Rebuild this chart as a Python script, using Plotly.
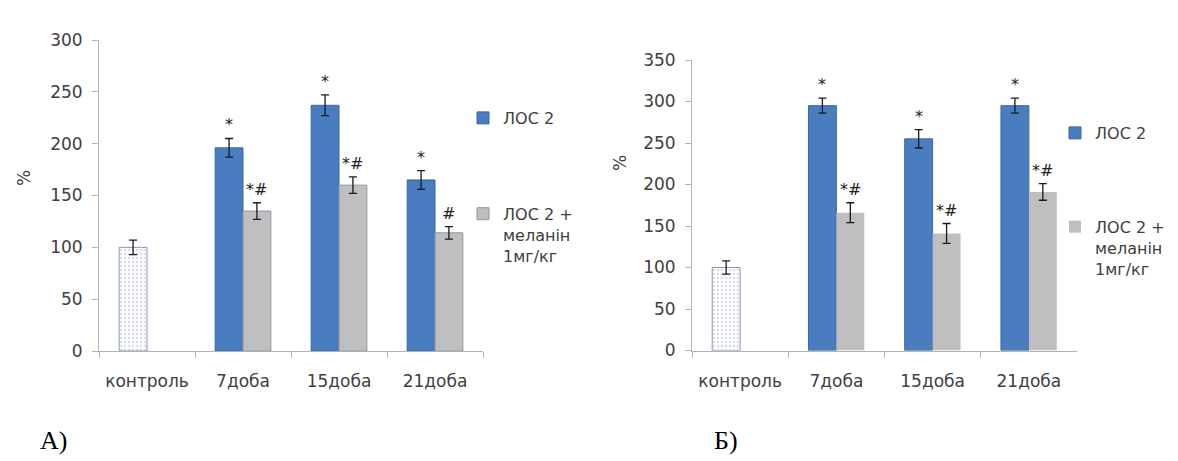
import plotly.graph_objects as go

# ---------------- data ----------------
categories = ["контроль", "7доба", "15доба", "21доба"]
days = categories[1:]

series_names = ["ЛОС 2", "ЛОС 2 +<br>меланін<br>1мг/кг"]

# Panel A)
control_A = [100]
control_err_A = [7]
los2_A = [196, 237, 165]
los2_err_A = [9, 10, 9]
mel_A = [135, 160, 114]
mel_err_A = [8, 8, 6]
sig_los2_A = ["*", "*", "*"]
sig_mel_A = ["*#", "*#", "#"]

# Panel Б)
control_B = [100]
control_err_B = [8]
los2_B = [295, 255, 295]
los2_err_B = [9, 11, 9]
mel_B = [166, 141, 191]
mel_err_B = [12, 12, 10]
sig_los2_B = ["*", "*", "*"]
sig_mel_B = ["*#", "*#", "*#"]

panel_labels = ["А)", "Б)"]

# ---------------- style ----------------
FONT = "DejaVu Sans"
TXT = "#404040"
BLUE = "#4A7DBF"
BLUE_EDGE = "#3B67A3"
GREY = "#BFBFBF"
AXIS = "#B3B3B3"
BARGAP = 0.42

# the page body keeps a default 8px margin, so the figure is drawn 8px in
OFF = 8
W, H = 1178 - OFF, 461 - OFF


def px(x):
    return (x - OFF) / W


def py(y):
    return 1 - (y - OFF) / H


def err(vals):
    return dict(type="data", array=vals, visible=True, color="#1A1A1A",
                thickness=1.3, width=4)


fig = go.Figure()


def add_panel(sfx, legend_name, control, control_err, los2, los2_err,
              mel, mel_err, grey_line):
    xa, ya = "x" + sfx, "y" + sfx
    ag = "ag" + (sfx or "1")
    fig.add_bar(x=[categories[0]], y=control, error_y=err(control_err),
                xaxis=xa, yaxis=ya, offsetgroup="s1", alignmentgroup=ag,
                showlegend=False, name="контроль", legend=legend_name,
                legendgroup="c" + sfx,
                marker=dict(color="#FFFFFF",
                            pattern=dict(shape=".", fgcolor="#B4BFD4",
                                         bgcolor="#FFFFFF", size=4,
                                         solidity=0.35),
                            line=dict(color="#8496B8", width=1)))
    fig.add_bar(x=days, y=los2, error_y=err(los2_err), xaxis=xa, yaxis=ya,
                offsetgroup="s1", alignmentgroup=ag, name=series_names[0],
                legend=legend_name, legendgroup="a" + sfx,
                marker=dict(color=BLUE, line=dict(color=BLUE_EDGE, width=1)))
    fig.add_bar(x=days, y=mel, error_y=err(mel_err), xaxis=xa, yaxis=ya,
                offsetgroup="s2", alignmentgroup=ag, name=series_names[1],
                legend=legend_name, legendgroup="b" + sfx,
                marker=dict(color=GREY, line=grey_line))


add_panel("", "legend", control_A, control_err_A, los2_A, los2_err_A,
          mel_A, mel_err_A, dict(color="#8A97AE", width=1))
add_panel("2", "legend2", control_B, control_err_B, los2_B, los2_err_B,
          mel_B, mel_err_B, dict(color=GREY, width=0))

# significance marks
half = (1 - BARGAP) / 4
annotations = []


def add_sig(sfx, vals, errs, labels, shift):
    for i, (v, e, t) in enumerate(zip(vals, errs, labels)):
        annotations.append(dict(
            x=(i + 1) + shift, y=v + e, xref="x" + sfx, yref="y" + sfx,
            text=t, showarrow=False, xanchor="center", yanchor="bottom",
            yshift=2, font=dict(family=FONT, size=16, color="#222222")))


add_sig("", los2_A, los2_err_A, sig_los2_A, -half)
add_sig("", mel_A, mel_err_A, sig_mel_A, half)
add_sig("2", los2_B, los2_err_B, sig_los2_B, -half)
add_sig("2", mel_B, mel_err_B, sig_mel_B, half)

# y-axis titles "%"
for xp, yp in [(24, 178), (620, 163)]:
    annotations.append(dict(x=px(xp), y=py(yp), xref="paper", yref="paper",
                            text="%", textangle=-90, showarrow=False,
                            xanchor="center", yanchor="middle",
                            font=dict(family=FONT, size=17, color=TXT)))

# panel labels
for lab, xp in zip(panel_labels, [53, 726]):
    annotations.append(dict(x=px(xp), y=py(440), xref="paper", yref="paper",
                            text=lab, showarrow=False, xanchor="center",
                            yanchor="middle",
                            font=dict(family="Liberation Serif", size=26,
                                      color="#000000")))

xaxis_common = dict(type="category", categoryorder="array",
                    categoryarray=categories, showline=True, linecolor=AXIS,
                    linewidth=1, ticks="outside", tickson="boundaries",
                    ticklen=6, tickcolor=AXIS, showgrid=False, zeroline=False,
                    ticklabelstandoff=15,
                    tickfont=dict(family=FONT, size=17, color=TXT),
                    range=[-0.5, 3.5], fixedrange=True)
yaxis_common = dict(showline=True, linecolor=AXIS, linewidth=1,
                    ticks="outside", ticklen=6, tickcolor=AXIS, dtick=50,
                    showgrid=False, zeroline=False, ticklabelstandoff=6,
                    tickfont=dict(family=FONT, size=17, color=TXT))

legend_common = dict(font=dict(family=FONT, size=16, color=TXT),
                     bgcolor="rgba(0,0,0,0)", valign="top", itemwidth=30,
                     xanchor="left", yanchor="top", traceorder="grouped",
                     itemclick=False, itemdoubleclick=False)

fig.update_layout(
    width=W, height=H, autosize=False,
    margin=dict(l=0, r=0, t=0, b=0, autoexpand=False),
    paper_bgcolor="white", plot_bgcolor="white",
    barmode="group", bargap=BARGAP, bargroupgap=0,
    font=dict(family=FONT, color=TXT),
    xaxis=dict(domain=[px(99), px(483)], anchor="y", **xaxis_common),
    yaxis=dict(domain=[py(351), py(40)], anchor="x",
               range=[0, 300], **yaxis_common),
    xaxis2=dict(domain=[px(692), px(1077)], anchor="y2", **xaxis_common),
    yaxis2=dict(domain=[py(350.5), py(60)], anchor="x2",
                range=[0, 350], **yaxis_common),
    legend=dict(x=px(463), y=py(101), tracegroupgap=72, **legend_common),
    legend2=dict(x=px(1055), y=py(116), tracegroupgap=70, **legend_common),
    annotations=annotations,
    showlegend=True,
)

fig.write_html("out.html")
